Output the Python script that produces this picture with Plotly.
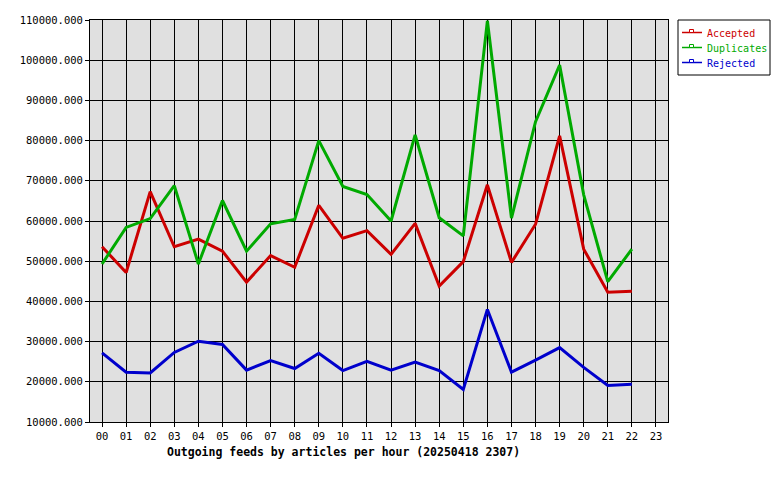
import plotly.graph_objects as go

hours = ["00","01","02","03","04","05","06","07","08","09","10","11",
         "12","13","14","15","16","17","18","19","20","21","22","23"]

accepted = [53600, 47200, 67300, 53600, 55500, 52500, 44800, 51400, 48500, 63900,
            55700, 57600, 51700, 59400, 43800, 49900, 69000, 49700, 59200, 81200,
            53000, 42300, 42500]
duplicates = [49300, 58400, 60600, 68800, 49300, 65100, 52500, 59300, 60400, 80000,
              68600, 66600, 60000, 81400, 60800, 56300, 109800, 60700, 84700, 98800,
              66500, 44900, 53000]
rejected = [27200, 22400, 22200, 27300, 30100, 29300, 22900, 25300, 23300, 27100,
            22800, 25100, 22900, 24900, 22800, 18100, 38000, 22400, 25400, 28500,
            23600, 19100, 19400]

series_names = ["Accepted", "Duplicates", "Rejected"]
series_values = [accepted, duplicates, rejected]
series_colors = ["#cc0000", "#00aa00", "#0000cc"]

MONO = "DejaVu Sans Mono"
W, H = 780, 480
ML, MR, MT, MB = 90, 112, 20, 58
PW, PH = W - ML - MR, H - MT - MB


def px(xp):
    return (xp - ML) / PW


def py(yp):
    return (H - MB - yp) / PH


fig = go.Figure()
for name, vals, col in zip(series_names, series_values, series_colors):
    fig.add_trace(go.Scatter(x=hours[:len(vals)], y=vals, mode="lines", name=name,
                             line=dict(color=col, width=3), showlegend=False))

# legend box drawn in paper coordinates
shapes = [dict(type="rect", xref="paper", yref="paper",
               x0=px(678), x1=px(770), y0=py(75), y1=py(20),
               line=dict(color="black", width=1), fillcolor="white", layer="above")]
annotations = []
for i, (name, col) in enumerate(zip(series_names, series_colors)):
    ly = 32.5 + 15 * i
    shapes.append(dict(type="line", xref="paper", yref="paper",
                       x0=px(682), x1=px(702), y0=py(ly), y1=py(ly),
                       line=dict(color=col, width=1.5), layer="above"))
    shapes.append(dict(type="rect", xref="paper", yref="paper",
                       x0=px(689.5), x1=px(693.5), y0=py(ly), y1=py(ly - 3),
                       line=dict(color=col, width=1), fillcolor="white", layer="above"))
    annotations.append(dict(text=name, xref="paper", yref="paper",
                            x=px(705), y=py(ly + 0.8), xanchor="left", yanchor="middle",
                            showarrow=False,
                            font=dict(family=MONO, size=10, color=col)))

annotations.append(dict(text="<b>Outgoing feeds by articles per hour (20250418 2307)</b>",
                        xref="paper", yref="paper", x=px(343), y=py(452),
                        xanchor="center", yanchor="middle", showarrow=False,
                        font=dict(family=MONO, size=11.5, color="black")))

fig.update_layout(
    width=W, height=H,
    margin=dict(l=ML, r=MR, t=MT, b=MB, autoexpand=False),
    paper_bgcolor="white", plot_bgcolor="#e0e0e0",
    font=dict(family=MONO, size=10, color="black"),
    showlegend=False,
    xaxis=dict(type="category", categoryorder="array", categoryarray=hours,
               tickvals=hours, range=[-0.5, 23.5],
               showgrid=True, gridcolor="black", gridwidth=1,
               showline=True, linecolor="black", linewidth=1, mirror=True,
               ticks="outside", ticklen=4, tickcolor="black",
               tickfont=dict(family=MONO, size=10.5), zeroline=False),
    yaxis=dict(range=[10000, 110000], dtick=10000, tick0=10000, tickformat=".3f",
               showgrid=True, gridcolor="black", gridwidth=1,
               showline=True, linecolor="black", linewidth=1, mirror=True,
               ticks="outside", ticklen=4, tickcolor="black",
               tickfont=dict(family=MONO, size=10.5), zeroline=False),
    shapes=shapes,
    annotations=annotations,
)

fig.write_html("out.html", config={"displayModeBar": False},
               post_script="document.body.style.margin='0';")
